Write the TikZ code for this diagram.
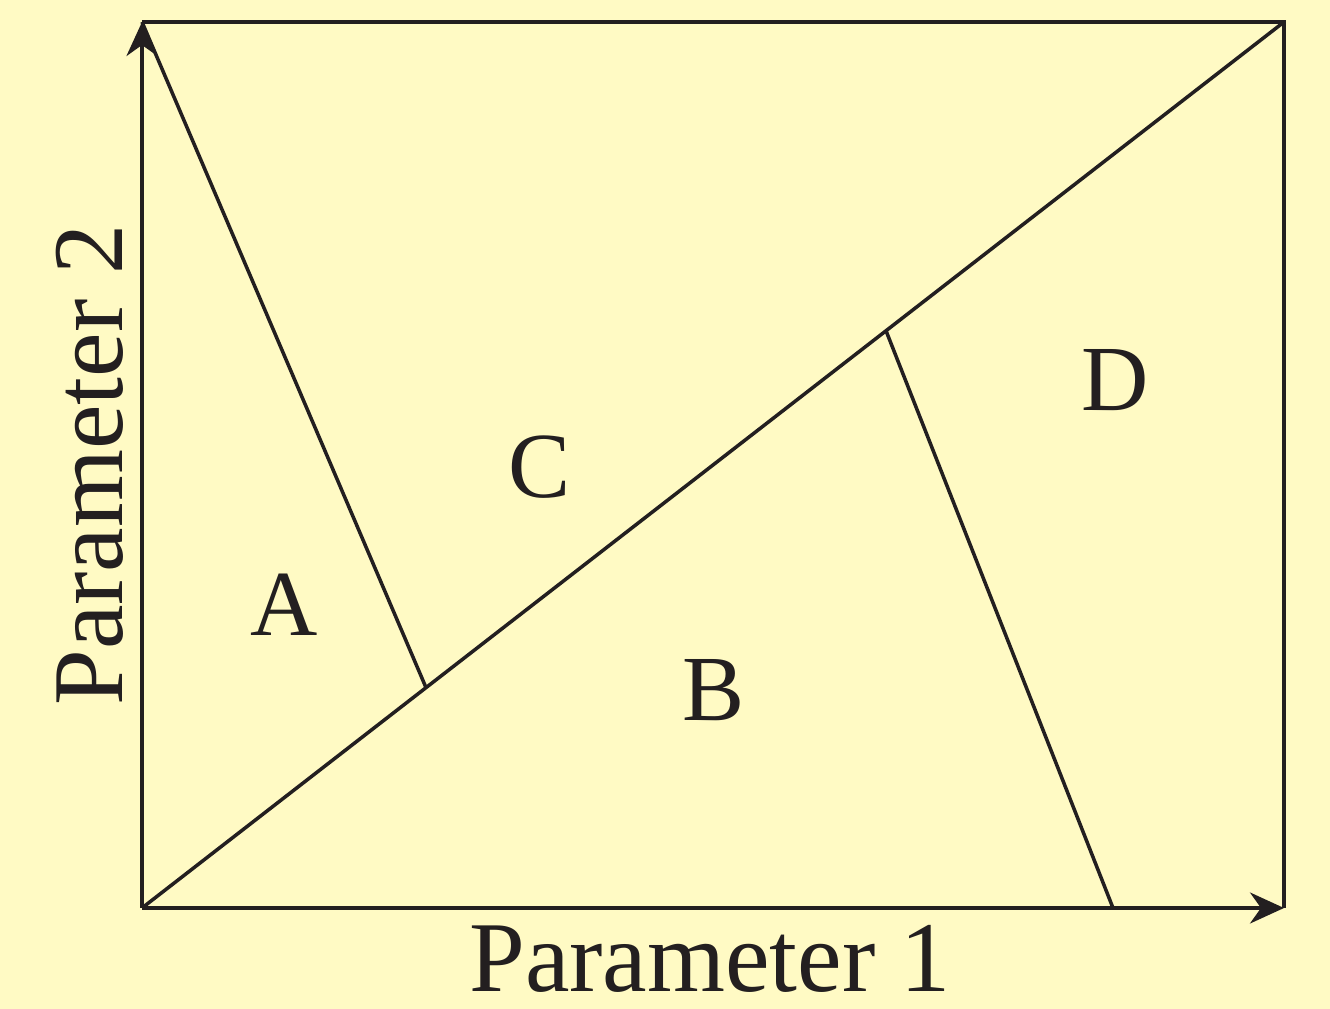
\documentclass[tikz,border=0pt]{standalone}
\usepackage{fontspec}
\setmainfont{Liberation Serif}
\usepackage{tikz}
\usetikzlibrary{calc}
\usetikzlibrary{arrows.meta}
\definecolor{paper}{RGB}{255,250,196}
\definecolor{ink}{RGB}{35,31,32}
\tikzset{
  axisline/.style = {ink, line width=1pt},
  axisarrow/.style = {-{Stealth[length=3.4mm,width=3.1mm,inset=1.1mm]}},
  region/.style = {ink, font=\fontsize{26.5}{30}\selectfont},
  axislabel/.style = {ink, font=\fontsize{28.5}{32}\selectfont},
}

\begin{document}
\begin{tikzpicture} [x=.01cm, y=.01cm]
    \useasboundingbox (0,0) rectangle (1330,1009);
    \fill[paper] (0,0) rectangle (1330,1009);
    \coordinate (O) at (142,101);
    \coordinate (ytip) at (142,987);
    \coordinate (xtip) at (1284,101);
    \coordinate (tr) at (1284,987);
    \coordinate (afoot) at ($(O)!0.2487!(tr)$);
    \coordinate (dtop) at ($(O)!0.6515!(tr)$);
    \coordinate (dfoot) at (1113,101);
    % box and axes
    \draw[axisline] (ytip) -- (tr) -- (xtip);
    \draw[axisline,axisarrow] (O) -- (ytip);
    \draw[axisline,axisarrow] (O) -- (xtip);
    % region borders
    \draw[axisline] (O) -- (tr);
    \draw[axisline] (ytip) -- (afoot);
    \draw[axisline] (dtop) -- (dfoot);
    \node[region] (A) at (284,404) {A};
    \node[region] (C) at (540,542) {C};
    \node[region] (B) at (714,319) {B};
    \node[region] (D) at (1115,629) {D};
    \node[axislabel] (p1) at (710,50) {Parameter 1};
    \node[axislabel, rotate=90] (p2) at (90,544) {Parameter 2};
\end{tikzpicture}
\end{document}
